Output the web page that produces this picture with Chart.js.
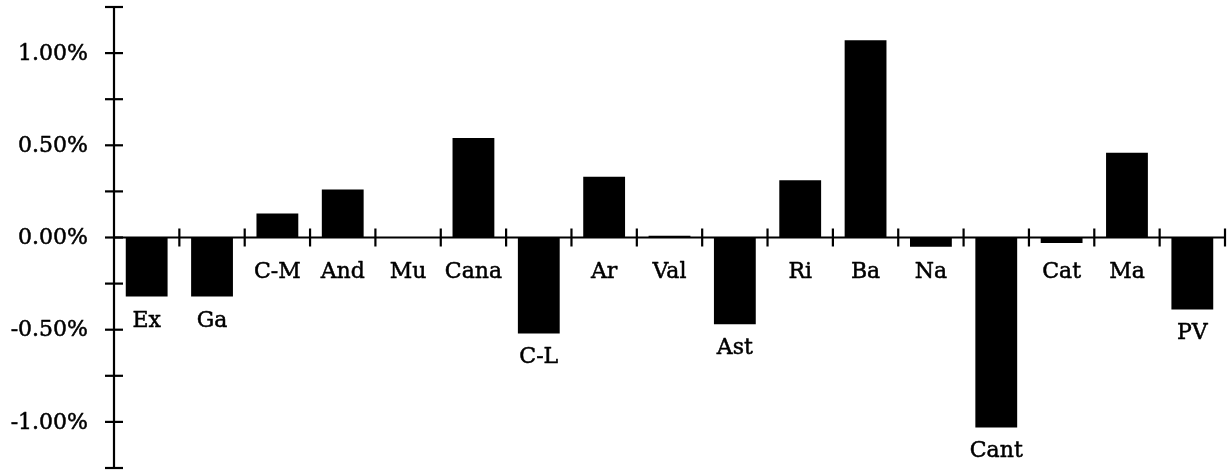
<!DOCTYPE html>
<html>
<head>
<meta charset="utf-8">
<script src="https://cdn.jsdelivr.net/npm/chart.js@4.4.1/dist/chart.umd.min.js"></script>
<style>
  html, body { margin: 0; padding: 0; background: #ffffff; }
  #wrap { width: 1231px; height: 476px; position: relative; }
</style>
</head>
<body>
<div id="wrap"><canvas id="c"></canvas></div>
<script>
// Data
const categories = ['Ex', 'Ga', 'C-M', 'And', 'Mu', 'Cana', 'C-L', 'Ar', 'Val', 'Ast', 'Ri', 'Ba', 'Na', 'Cant', 'Cat', 'Ma', 'PV'];
const values = [-0.32, -0.32, 0.13, 0.26, 0.00, 0.54, -0.52, 0.33, 0.01, -0.47, 0.31, 1.07, -0.05, -1.03, -0.03, 0.46, -0.39];
const yMin = -1.25;
const yMax = 1.25;
const yTickValues = [-1.25, -1.0, -0.75, -0.5, -0.25, 0, 0.25, 0.5, 0.75, 1.0, 1.25];
const yLabelValues = [-1.0, -0.5, 0, 0.5, 1.0];

const FONT = '"DejaVu Serif", serif';

function drawText(ctx, txt, x, y) {
  ctx.fillText(txt, x, y);
  ctx.strokeText(txt, x, y);
}

const axesPlugin = {
  id: 'customAxes',
  afterDatasetsDraw(chart) {
    const ctx = chart.ctx;
    const xs = chart.scales.x;
    const ys = chart.scales.y;
    const area = chart.chartArea;
    const zeroY = ys.getPixelForValue(0);
    const tickHalf = 9;
    ctx.save();
    ctx.strokeStyle = '#000';
    ctx.lineWidth = 2.2;
    ctx.lineCap = 'butt';
    // y axis line
    ctx.beginPath();
    ctx.moveTo(area.left, ys.getPixelForValue(yMax) - 1);
    ctx.lineTo(area.left, ys.getPixelForValue(yMin) + 1);
    ctx.stroke();
    // y tick marks
    yTickValues.forEach(v => {
      const py = ys.getPixelForValue(v);
      ctx.beginPath();
      ctx.moveTo(area.left - tickHalf, py);
      ctx.lineTo(area.left + tickHalf, py);
      ctx.stroke();
    });
    // x axis line at zero
    ctx.beginPath();
    ctx.moveTo(area.left, zeroY);
    ctx.lineTo(area.right, zeroY);
    ctx.stroke();
    // x tick marks between categories
    const n = categories.length;
    for (let i = 0; i < n; i++) {
      const cx = xs.getPixelForValue(i);
      const nx = i < n - 1 ? xs.getPixelForValue(i + 1) : cx + (cx - xs.getPixelForValue(i - 1));
      const px = (cx + nx) / 2;
      ctx.beginPath();
      ctx.moveTo(px, zeroY - tickHalf);
      ctx.lineTo(px, zeroY + tickHalf);
      ctx.stroke();
    }
    // text
    ctx.fillStyle = '#000';
    ctx.lineWidth = 0.5;
    ctx.lineJoin = 'round';
    ctx.font = '22px ' + FONT;
    // y tick labels
    ctx.textAlign = 'right';
    ctx.textBaseline = 'middle';
    yLabelValues.forEach(v => {
      drawText(ctx, v.toFixed(2) + '%', area.left - 26, ys.getPixelForValue(v) + 1);
    });
    // category labels below bar ends or below the axis
    ctx.textAlign = 'center';
    ctx.textBaseline = 'alphabetic';
    const meta = chart.getDatasetMeta(0);
    meta.data.forEach((bar, i) => {
      const bottom = Math.max(bar.y, bar.base, zeroY + 10);
      drawText(ctx, categories[i], bar.x, bottom + 30);
    });
    ctx.restore();
  }
};

new Chart(document.getElementById('c'), {
  type: 'bar',
  data: {
    labels: categories,
    datasets: [{
      data: values,
      backgroundColor: '#000000',
      borderWidth: 0,
      categoryPercentage: 1.0,
      barPercentage: 0.64
    }]
  },
  options: {
    responsive: true,
    maintainAspectRatio: false,
    animation: false,
    events: [],
    layout: { padding: { left: 0, right: 6, top: 7, bottom: 8 } },
    plugins: { legend: { display: false }, tooltip: { enabled: false } },
    scales: {
      x: {
        display: false,
        offset: true,
        grid: { display: false }
      },
      y: {
        min: yMin,
        max: yMax,
        grid: { display: false },
        border: { display: false },
        ticks: { display: false },
        afterFit(scale) {
          scale.width = 114;
          scale.paddingTop = 0;
          scale.paddingBottom = 0;
        }
      }
    }
  },
  plugins: [axesPlugin]
});
</script>
</body>
</html>
